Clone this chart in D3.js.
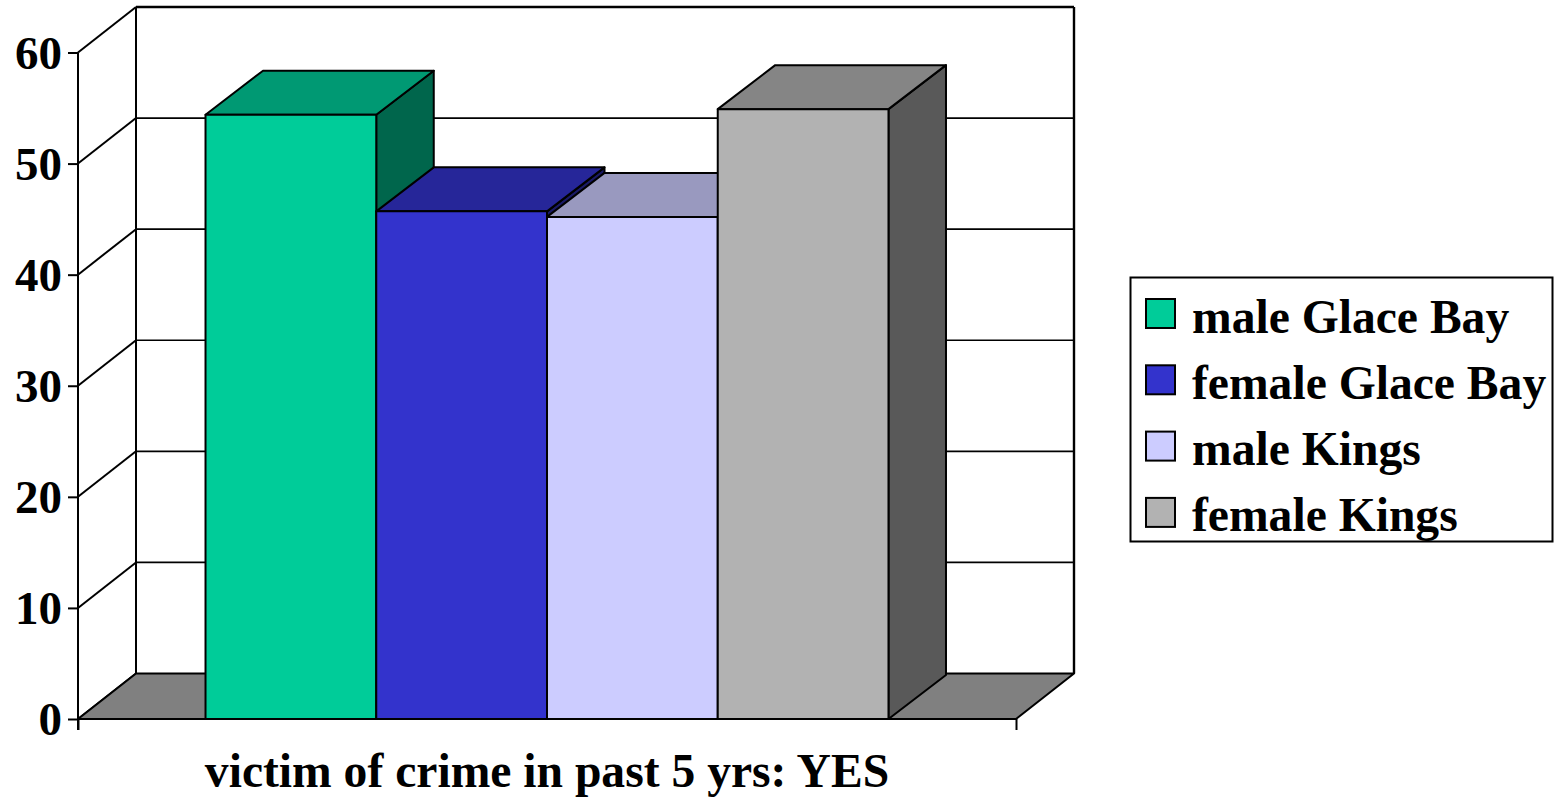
<!DOCTYPE html>
<html>
<head>
<meta charset="utf-8">
<script src="https://cdn.jsdelivr.net/npm/d3@7"></script>
<style>
  html, body { margin: 0; padding: 0; background: #fff; }
  svg { display: block; }
  text { font-family: "Liberation Serif", "Times New Roman", serif; font-weight: bold; fill: #000; }
</style>
</head>
<body>
<svg id="chart" width="1554" height="799"></svg>
<script>
// Data
const categories = ["victim of crime in past 5 yrs: YES"];
const series = ["male Glace Bay", "female Glace Bay", "male Kings", "female Kings"];
const values = [54.4, 45.7, 45.2, 54.9];
const yTicks = [0, 10, 20, 30, 40, 50, 60];

// Face colours: front, top, side
const frontColors = ["#00CC99", "#3333CC", "#CCCCFF", "#B2B2B2"];
const topColors   = ["#009973", "#262699", "#9999BF", "#858585"];
const sideColors  = ["#00664C", "#1A1A66", "#666680", "#595959"];

const svg = d3.select("#chart");

// Front plane geometry
const left = 78, right = 1016;
const y = d3.scaleLinear().domain([0, 60]).range([719, 52.5]);

// Depth offset for walls/floor and for bars
const DX = 58, DY = -45.5;
const BDX = 57.5, BDY = -44;

const x0 = d3.scaleBand().domain(categories).range([left, right]).paddingOuter(0.1867).paddingInner(0);
const x1 = d3.scaleBand().domain(series).range([0, x0.bandwidth()]);

const g = svg.append("g");
const line = (x1_, y1_, x2_, y2_, w) =>
  g.append("line").attr("x1", x1_).attr("y1", y1_).attr("x2", x2_).attr("y2", y2_)
   .attr("stroke", "#000").attr("stroke-width", w || 2);

// Back wall gridlines and left wall diagonals
yTicks.forEach(v => {
  const yy = y(v);
  if (v > 0) line(left + DX, yy + DY, right + DX, yy + DY, 1.6);
  line(left, yy, left + DX, yy + DY, 2);
});
// Back wall frame
line(left + DX, y(60) + DY, right + DX, y(60) + DY, 2.4);
line(left + DX, y(60) + DY, left + DX, y(0) + DY, 2);
line(right + DX, y(60) + DY, right + DX, y(0) + DY, 2.4);

// Floor
const floorPts = [[left, y(0)], [right, y(0)], [right + DX, y(0) + DY], [left + DX, y(0) + DY]];
g.append("polygon").attr("points", floorPts.map(p => p.join(",")).join(" "))
  .attr("fill", "#808080").attr("stroke", "#000").attr("stroke-width", 2).attr("stroke-linejoin", "round");

// Bars, drawn left to right so each bar hides the side of the one before it
const cat = categories[0];
series.forEach((s, i) => {
  const xa = x0(cat) + x1(s), xb = xa + x1.bandwidth();
  const yt = y(values[i]), yb = y(0);
  const bg = g.append("g").attr("stroke", "#000").attr("stroke-width", 2).attr("stroke-linejoin", "round");
  const poly = (pts, fill) => bg.append("polygon").attr("points", pts.map(p => p.join(",")).join(" ")).attr("fill", fill);
  poly([[xb, yt], [xb + BDX, yt + BDY], [xb + BDX, yb + BDY], [xb, yb]], sideColors[i]);
  poly([[xa, yt], [xa + BDX, yt + BDY], [xb + BDX, yt + BDY], [xb, yt]], topColors[i]);
  poly([[xa, yt], [xb, yt], [xb, yb], [xa, yb]], frontColors[i]);
});

// Axes
const yAxis = d3.axisLeft(y).tickValues(yTicks).tickSize(10).tickPadding(6).tickFormat(d3.format("d"));
const ya = svg.append("g").attr("transform", `translate(${left},0)`).call(yAxis);
ya.select(".domain").attr("d", `M0,${y(60)}V${y(0) + 11}`).attr("stroke", "#000").attr("stroke-width", 2);
ya.selectAll(".tick line").attr("stroke", "#000").attr("stroke-width", 2);
ya.selectAll(".tick text").style("font-size", "47px").attr("dy", "0.34em")
  .style("font-family", "'Liberation Serif', serif").style("font-weight", "bold").attr("fill", "#000");

const xs = d3.scaleLinear().domain([0, 1]).range([left, right]);
const xAxis = d3.axisBottom(xs).tickValues([0, 1]).tickSize(11).tickFormat("");
const xa = svg.append("g").attr("transform", `translate(0,${y(0)})`).call(xAxis);
xa.select(".domain").attr("d", `M${left},0H${right}`).attr("stroke", "#000").attr("stroke-width", 2);
xa.selectAll(".tick line").attr("stroke", "#000").attr("stroke-width", 2);

// Category label
svg.append("text").attr("x", x0(cat) + x0.bandwidth() / 2).attr("y", 787)
  .attr("text-anchor", "middle").style("font-size", "47.6px").text(cat);

// Legend
const lg = svg.append("g");
lg.append("rect").attr("x", 1130.5).attr("y", 277.5).attr("width", 422).attr("height", 264)
  .attr("fill", "#fff").attr("stroke", "#000").attr("stroke-width", 2);
series.forEach((s, i) => {
  const yy = 299 + i * 66.3;
  lg.append("rect").attr("x", 1146).attr("y", yy).attr("width", 29).attr("height", 29)
    .attr("fill", frontColors[i]).attr("stroke", "#000").attr("stroke-width", 2);
  lg.append("text").attr("x", 1192).attr("y", yy + 33.5).style("font-size", "47.6px").text(s);
});
</script>
</body>
</html>
